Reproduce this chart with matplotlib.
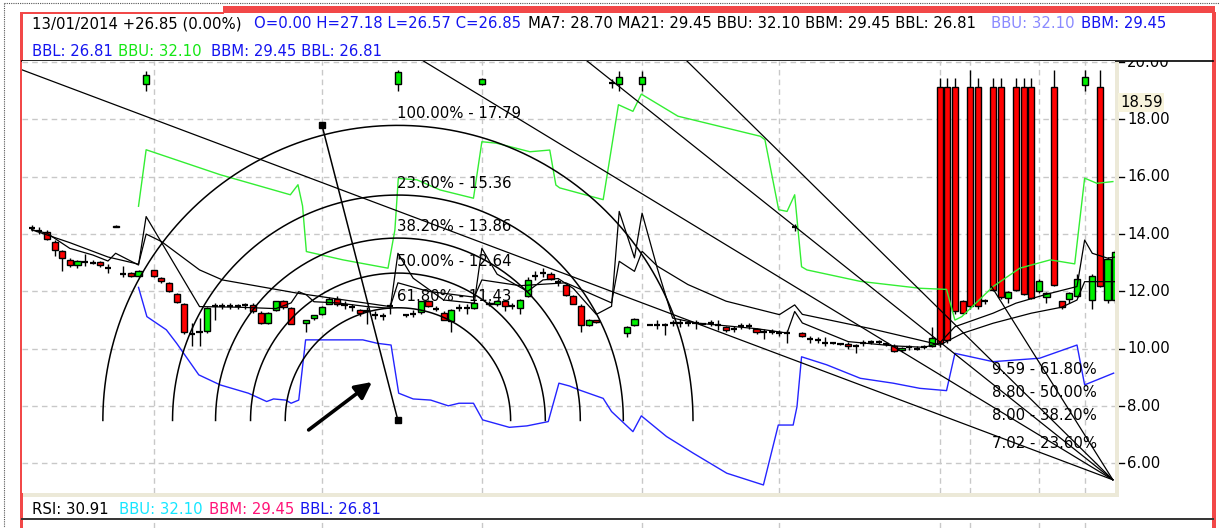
import numpy as np
import matplotlib
matplotlib.use("Agg")
import matplotlib.pyplot as plt
from matplotlib.patches import Rectangle

plt.rcParams['font.family'] = ['DejaVu Sans']

# ---------------- data ----------------
opens = [14.20, 14.10, 14.06, 13.74, 13.40, 13.11, 12.93, 13.03, 13.00, 13.01,
         12.81, 14.29, 12.62, 12.64, 12.55, 19.23, 12.73, 12.47, 12.29, 11.92,
         11.56, 10.50, 10.60, 10.61, 11.48, 11.50, 11.50, 11.48, 11.52, 11.54,
         11.25, 10.90, 11.36, 11.65, 11.42, np.nan, 10.90, 11.07, 11.22, 11.57,
         11.75, 11.54, 11.46, 11.34, 11.30, 11.19, 11.13, 11.48, 19.23, 11.16,
         11.20, 11.27, 11.65, 11.39, 11.25, 10.96, 11.42, 11.42, 11.42, 19.23,
         11.60, 11.55, 11.65, 11.50, 11.42, 11.83, 12.53, 12.64, 12.62, 12.34,
         12.23, 11.83, 11.50, 10.84, 11.00, np.nan, 19.27, 19.23, 10.56, 10.84,
         19.23, 10.84, 10.84, 10.84, 10.90, 10.91, 10.90, 10.90, 10.88, 10.90,
         10.84, 10.76, 10.70, 10.80, 10.80, 10.69, 10.60, 10.60, 10.54, 10.55,
         14.24, 10.55, 10.35, 10.30, 10.20, 10.20, 10.15, 10.18, 10.08, 10.20,
         10.22, 10.23, 10.15, 10.11, 9.95, 10.05, 10.00, 10.05, 10.09, 19.14,
         19.14, 19.14, 11.65, 19.14, 19.14, 11.65, 19.14, 19.14, 11.77, 19.14,
         19.14, 19.14, 12.00, 11.81, 19.14, 11.65, 11.74, 11.83, 19.20, 11.71,
         19.14, 11.71, 11.71]
highs = [14.30, 14.25, 14.15, 13.80, 13.45, 13.15, 13.10, 13.30, 13.10, 13.05,
         12.95, 14.30, 12.90, 12.68, 12.75, 19.70, 12.76, 12.50, 12.32, 11.95,
         11.60, 10.91, 11.09, 11.45, 11.60, 11.60, 11.60, 11.55, 11.60, 11.60,
         11.30, 11.28, 11.68, 11.70, 11.45, np.nan, 11.00, 11.18, 11.48, 11.80,
         11.85, 11.65, 11.55, 11.40, 11.45, 11.30, 11.25, 11.60, 19.73, 11.20,
         11.35, 11.68, 11.70, 11.50, 11.30, 11.40, 11.55, 11.55, 11.65, 19.45,
         11.65, 11.70, 11.70, 11.60, 11.75, 12.50, 12.70, 12.80, 12.66, 12.45,
         12.26, 11.86, 11.55, 11.05, 11.02, np.nan, 19.40, 19.68, 10.78, 11.06,
         19.68, 10.86, 11.00, 10.90, 11.00, 11.05, 11.00, 11.00, 10.90, 11.00,
         11.00, 10.80, 10.80, 10.90, 10.90, 10.72, 10.70, 10.68, 10.65, 10.67,
         14.35, 10.60, 10.45, 10.40, 10.40, 10.22, 10.17, 10.22, 10.15, 10.30,
         10.30, 10.30, 10.20, 10.15, 10.06, 10.12, 10.08, 10.12, 10.77, 19.43,
         19.43, 19.43, 11.70, 19.72, 19.43, 11.75, 19.43, 19.43, 12.00, 19.43,
         19.43, 19.43, 12.42, 11.98, 19.72, 11.68, 11.98, 12.60, 19.72, 12.60,
         19.72, 13.20, 13.45]
lows = [14.10, 14.00, 13.80, 13.24, 12.70, 12.85, 12.80, 12.90, 12.95, 12.85,
        12.65, 14.24, 12.50, 12.50, 12.50, 19.00, 12.50, 12.30, 11.98, 11.60,
        10.50, 10.09, 10.09, 10.55, 11.00, 11.40, 11.40, 11.40, 11.40, 11.25,
        10.85, 10.85, 11.30, 11.40, 10.85, np.nan, 10.60, 11.00, 11.18, 11.55,
        11.50, 11.40, 11.30, 11.15, 10.85, 11.05, 11.00, 11.20, 19.00, 11.12,
        11.10, 11.20, 11.45, 11.30, 11.00, 10.60, 11.30, 11.20, 11.40, 19.20,
        11.50, 11.50, 11.30, 11.40, 11.20, 11.80, 12.40, 12.50, 12.40, 12.20,
        11.85, 11.55, 10.60, 10.80, 10.90, np.nan, 19.10, 19.00, 10.40, 10.80,
        19.00, 10.82, 10.68, 10.49, 10.80, 10.75, 10.80, 10.70, 10.86, 10.80,
        10.65, 10.60, 10.60, 10.70, 10.70, 10.50, 10.35, 10.50, 10.45, 10.20,
        14.10, 10.40, 10.20, 10.20, 10.10, 10.18, 10.13, 10.00, 9.85, 10.10,
        10.15, 10.15, 10.10, 9.88, 9.90, 9.95, 9.95, 9.98, 10.05, 10.07,
        10.20, 11.20, 11.20, 11.40, 11.40, 11.55, 12.00, 11.75, 11.60, 12.00,
        11.88, 11.75, 11.95, 11.60, 12.20, 11.40, 11.60, 11.80, 19.00, 11.40,
        12.15, 11.60, 11.60]
closes = [14.20, 14.10, 13.83, 13.43, 13.16, 12.91, 13.05, 13.03, 13.00, 12.91,
          12.81, 14.25, 12.62, 12.55, 12.72, 19.54, 12.52, 12.35, 12.00, 11.62,
          10.58, 10.50, 10.60, 11.43, 11.48, 11.50, 11.50, 11.48, 11.52, 11.31,
          10.90, 11.25, 11.65, 11.46, 10.88, np.nan, 10.99, 11.16, 11.46, 11.75,
          11.57, 11.54, 11.46, 11.23, 11.30, 11.19, 11.13, 11.48, 19.65, 11.16,
          11.20, 11.65, 11.48, 11.39, 11.02, 11.36, 11.42, 11.42, 11.60, 19.41,
          11.55, 11.65, 11.48, 11.50, 11.71, 12.41, 12.53, 12.64, 12.43, 12.34,
          11.89, 11.57, 10.84, 11.02, 10.92, np.nan, 19.27, 19.47, 10.76, 11.04,
          19.47, 10.84, 10.84, 10.84, 10.90, 10.91, 10.90, 10.90, 10.88, 10.90,
          10.84, 10.67, 10.70, 10.80, 10.80, 10.58, 10.60, 10.60, 10.54, 10.55,
          14.24, 10.46, 10.35, 10.30, 10.20, 10.20, 10.15, 10.09, 10.08, 10.20,
          10.22, 10.23, 10.15, 9.91, 10.03, 10.05, 10.00, 10.05, 10.38, 10.20,
          10.32, 11.31, 11.25, 11.48, 11.48, 11.65, 12.06, 11.81, 11.98, 12.06,
          11.92, 11.77, 12.38, 11.95, 12.24, 11.46, 11.95, 12.43, 19.49, 12.55,
          12.20, 13.13, 13.39]

# moving averages (vertices: bar, price)
ma7_bar = [0, 2, 5, 8, 10, 11, 14, 15, 22, 27, 32, 34, 35, 36, 37, 40, 44, 47, 48, 50,
           54, 58, 59, 61, 65, 67, 69, 71, 74, 76, 77, 79, 80, 82, 84, 87, 95, 99, 100, 101,
           107, 113, 117, 119, 121, 126, 129, 133, 137, 138, 139, 141, 142]
ma7_val = [14.15, 14.03, 13.5, 13.27, 13.06, 13.33, 12.92, 14.61, 11.47, 11.45,
           11.4, 11.6, 11.99, 11.88, 11.64, 11.6, 11.47, 11.41, 13.33, 12.46,
           11.70, 11.59, 13.5, 12.6, 12.0, 12.4, 12.45, 12.1, 11.2, 11.48,
           14.79, 13.17, 14.73, 12.8, 11.07, 10.9, 10.7, 10.55, 11.3, 10.9,
           10.25, 10.1, 10.05, 10.2, 10.77, 11.24, 11.59, 11.9, 12.17, 13.79,
           13.33, 13.16, 13.2]
ma21_bar = [0, 5, 10, 14, 15, 17, 22, 25, 35, 47, 48, 52, 58, 59, 64, 70, 76, 77, 79, 80,
            82, 86, 91, 98, 100, 101, 110, 118, 119, 122, 126, 131, 135, 137, 138, 142]
ma21_val = [14.15, 13.7, 13.2, 12.95, 14.0, 13.74, 12.75, 12.4, 11.93, 11.47,
            12.3, 12.0, 11.8, 12.4, 12.2, 12.3, 11.6, 13.05, 12.7, 13.4,
            12.88, 12.24, 11.66, 11.19, 11.53, 11.2, 10.7, 10.2, 10.13, 10.54,
            10.89, 11.24, 11.45, 11.7, 12.34, 12.34]

# Bollinger bands (vertices: bar, price)
bbu_bar = [14.0, 15.0, 24.7, 33.9, 34.9, 35.5, 36.0, 40.8, 46.7, 47.6, 48.05, 50.5, 53.5,
           57.9, 59.0, 60.9, 65.3, 67.9, 68.7, 69.2, 74.9, 76.9, 78.8, 79.9, 84.7, 95.5,
           96.1, 97.9, 99.0, 100.0, 100.9, 101.6, 108.6, 116.4, 119.9, 121.0, 121.9,
           126.0, 129.5, 133.5, 136.7, 138.0, 139.6, 141.7]
bbu_val = [14.97, 16.94, 16.07, 15.37, 15.72, 14.98, 13.39, 13.10, 12.81, 14.14, 15.94,
           15.89, 15.54, 15.25, 17.22, 17.17, 16.87, 16.93, 15.71, 15.61, 15.20, 18.51,
           18.28, 18.88, 18.11, 17.41, 17.29, 14.85, 14.79, 15.37, 12.86, 12.75, 12.35,
           12.11, 12.07, 11.00, 11.12, 12.17, 12.81, 13.10, 12.96, 15.95, 15.77, 15.83]
bbl_bar = [14.0, 15.1, 17.65, 19.0, 21.9, 24.7, 28.4, 30.8, 31.7, 33.3, 34.0, 35.0, 35.9,
           43.4, 45.3, 47.1, 48.1, 50.0, 52.3, 54.6, 56.0, 57.9, 59.1, 62.6, 64.9, 67.7,
           69.1, 70.5, 71.8, 74.9, 76.0, 78.8, 79.9, 83.2, 86.7, 91.1, 95.9, 97.85, 99.8,
           100.3, 100.9, 104.2, 108.6, 112.9, 116.4, 119.9, 121.0, 126.0, 132.1, 137.0,
           138.0, 141.8]
bbl_val = [12.14, 11.12, 10.66, 10.19, 9.09, 8.74, 8.45, 8.16, 8.25, 8.21, 8.10, 8.21,
           10.31, 10.31, 10.19, 10.13, 8.45, 8.25, 8.21, 8.01, 8.10, 8.10, 7.52, 7.26,
           7.31, 7.46, 8.80, 8.70, 8.56, 8.27, 7.81, 7.11, 7.66, 6.94, 6.36, 5.66, 5.25,
           7.34, 7.34, 7.98, 9.72, 9.44, 8.97, 8.80, 8.62, 8.54, 9.84, 9.55, 9.67, 10.13,
           8.74, 9.15]

# Fibonacci arcs
arc_anchor_bar = [38.05, 48.0]
arc_anchor_price = [17.79, 7.50]
arc_levels = [100.0, 23.6, 38.2, 50.0, 61.8]
arc_prices = [17.79, 15.36, 13.86, 12.64, 11.43]

# Fibonacci fan
fan_origin_bar, fan_origin_price = 141.7, 5.43
fan_ref_bar, fan_top_price = 125.8, 12.17
fan_levels = [61.8, 50.0, 38.2, 23.6]
fan_prices = [9.59, 8.80, 8.00, 7.02]

arrow_tail = (36.3, 7.17)
arrow_head = (44.6, 8.84)

month_bars = [16, 38, 59, 80, 98, 119, 123, 132, 138]
price_ticks = [20, 18, 16, 14, 12, 10, 8, 6]
last_price = 18.59

header_line1 = [("13/01/2014 +26.85 (0.00%)", "#000000", 31.6),
                ("O=0.00 H=27.18 L=26.57 C=26.85", "#1414f0", 254),
                ("MA7: 28.70 MA21: 29.45 BBU: 32.10 BBM: 29.45 BBL: 26.81", "#000000", 527.7),
                ("BBU: 32.10", "#8a8aff", 991),
                ("BBM: 29.45", "#1414f0", 1081)]
header_line2 = [("BBL: 26.81", "#1414f0", 31.6),
                ("BBU: 32.10", "#14e614", 118),
                ("BBM: 29.45 BBL: 26.81", "#1414f0", 211)]
rsi_line = [("RSI: 30.91", "#000000", 31.6),
            ("BBU: 32.10", "#14e6ff", 118.6),
            ("BBM: 29.45", "#ff1478", 208.7),
            ("BBL: 26.81", "#1414f0", 300.4)]

# ---------------- figure ----------------
W, H = 1220, 528
fig = plt.figure(figsize=(W / 100, H / 100), dpi=100)
fig.patch.set_facecolor("white")
FS = 10.7


def fx(px):
    return px / W


def fy(py):
    return 1 - py / H


def px_axes(x0, y0, x1, y1, **kw):
    return fig.add_axes([fx(x0), fy(y1), fx(x1) - fx(x0), fy(y0) - fy(y1)], **kw)


# frame pieces
bg = px_axes(0, 0, W, H)
bg.set_xlim(0, W)
bg.set_ylim(H, 0)
bg.axis("off")
bg.add_patch(Rectangle((20, 12), 1196, 516, facecolor="white", edgecolor="none"))
bg.add_patch(Rectangle((1115, 61), 4, 436, facecolor="#ece9d8", edgecolor="none"))
bg.add_patch(Rectangle((22, 493), 1097, 4, facecolor="#ece9d8", edgecolor="none"))
bg.plot([22, 1213], [61, 61], color="black", lw=1.2)
bg.plot([22, 1213], [519, 519], color="#333333", lw=1.4)
bg.add_patch(Rectangle((19.5, 12), 3.5, 516, facecolor="#f24848", edgecolor="none"))
bg.add_patch(Rectangle((1212, 12), 3.5, 516, facecolor="#f24848", edgecolor="none"))
bg.add_patch(Rectangle((223, 6), 992, 7, facecolor="#f24848", edgecolor="none"))
bg.add_patch(Rectangle((19.5, 11.5), 204, 2, facecolor="#f24848", edgecolor="none"))
bg.plot([4, 4], [3, H], color="#555555", lw=0.8, ls=(0, (1, 1)))
bg.plot([4, W], [3, 3], color="#555555", lw=0.8, ls=(0, (1, 1)))

for segs, ypx in ((header_line1, 24), (header_line2, 51.5), (rsi_line, 510)):
    for txt, col, xpx in segs:
        bg.text(xpx, ypx, txt, color=col, fontsize=FS, ha="left", va="center")

# ---------------- main price panel ----------------
ax = px_axes(22, 61, 1115, 493)
ax.set_xlim(-1.27, 141.98)
ax.set_ylim(4.97, 20.035)
ax.set_facecolor("white")
for s in ax.spines.values():
    s.set_visible(False)
ax.set_xticks([])
ax.set_yticks([])

grid_kw = dict(color="#c8c8c8", lw=1.0, ls=(0, (4, 3)), zorder=0)
for v in price_ticks:
    ax.axhline(v, **grid_kw)
for b in month_bars:
    ax.axvline(b, **grid_kw)

# candles
o = np.array(opens, float)
h = np.array(highs, float)
lo = np.array(lows, float)
c = np.array(closes, float)
idx = np.arange(len(o))
ok = ~np.isnan(o)
ax.vlines(idx[ok], lo[ok], h[ok], color="black", lw=1.0, zorder=3)
bw = 0.8
flat = ok & (np.abs(c - o) < 0.03)
ax.hlines(c[flat], idx[flat] - bw / 2, idx[flat] + bw / 2, color="black", lw=1.6, zorder=4)
body = ok & ~flat
up = body & (c > o)
dn = body & (c < o)
ax.bar(idx[up], (c - o)[up], bottom=o[up], width=bw, color="#00f000",
       edgecolor="black", linewidth=1.0, zorder=4)
ax.bar(idx[dn], (o - c)[dn], bottom=c[dn], width=bw, color="#ff0000",
       edgecolor="black", linewidth=1.0, zorder=4)

# bands and averages
ax.plot(bbu_bar, bbu_val, color="#33ee33", lw=1.0, zorder=5)
ax.plot(bbl_bar, bbl_val, color="#2424ff", lw=1.0, zorder=5)
ax.plot(ma7_bar, ma7_val, color="black", lw=0.9, zorder=5)
ax.plot(ma21_bar, ma21_val, color="black", lw=0.9, zorder=5)

# Fibonacci arcs
cx, cy = arc_anchor_bar[1], arc_anchor_price[1]
c_disp = ax.transData.transform((cx, cy))
t = np.linspace(0, np.pi, 240)
for lvl, pr in zip(arc_levels, arc_prices):
    top_disp = ax.transData.transform((cx, pr))
    r = top_disp[1] - c_disp[1]
    pts = np.column_stack([c_disp[0] + r * np.cos(t), c_disp[1] + r * np.sin(t)])
    dpts = ax.transData.inverted().transform(pts)
    ax.plot(dpts[:, 0], dpts[:, 1], color="black", lw=1.1, zorder=6)
    ax.annotate(f"{lvl:.2f}% - {pr:.2f}", (cx, pr), xytext=(-1, 3),
                textcoords="offset points", ha="left", va="bottom",
                fontsize=FS, color="black", zorder=7)
ax.plot(arc_anchor_bar, arc_anchor_price, color="black", lw=1.1, marker="s",
        ms=5, zorder=7)

# Fibonacci fan
x_left = ax.get_xlim()[0]
for lvl, pr in zip(fan_levels, fan_prices):
    slope = (pr - fan_origin_price) / (fan_ref_bar - fan_origin_bar)
    y_left = fan_origin_price + slope * (x_left - fan_origin_bar)
    ax.plot([x_left, fan_origin_bar], [y_left, fan_origin_price], color="black",
            lw=0.9, zorder=6)
    ax.annotate(f"{pr:.2f} - {lvl:.2f}%", (fan_ref_bar, pr), xytext=(0, -1),
                textcoords="offset points", ha="left", va="top",
                fontsize=FS, color="black", zorder=7)
ax.plot([fan_ref_bar, fan_origin_bar], [fan_top_price, fan_origin_price],
        color="black", lw=0.9, zorder=6)

ax.annotate("", xy=arrow_head, xytext=arrow_tail,
            arrowprops=dict(arrowstyle="-|>,head_length=1.0,head_width=0.5",
                            lw=2.6, color="black", shrinkA=0, shrinkB=0), zorder=8)

# ---------------- price scale ----------------
rax = px_axes(1119, 61, 1212, 493)
rax.set_xlim(0, 93)
rax.set_ylim(ax.get_ylim())
rax.axis("off")
for v in price_ticks:
    rax.plot([0, 5], [v, v], color="black", lw=1.0, clip_on=True)
    rax.text(8, v, f"{v:.2f}", fontsize=FS, ha="left", va="center", clip_on=True)
rax.text(1, last_price, f"{last_price:.2f}", fontsize=FS, ha="left", va="center",
         bbox=dict(boxstyle="square,pad=0.12", facecolor="#f7f3dc", edgecolor="none"))

# ---------------- lower panel strip ----------------
lax = px_axes(22, 520, 1115, 528)
lax.set_xlim(ax.get_xlim())
lax.axis("off")
for b in month_bars:
    lax.axvline(b, **grid_kw)

fig.savefig("out.png", dpi=100)
